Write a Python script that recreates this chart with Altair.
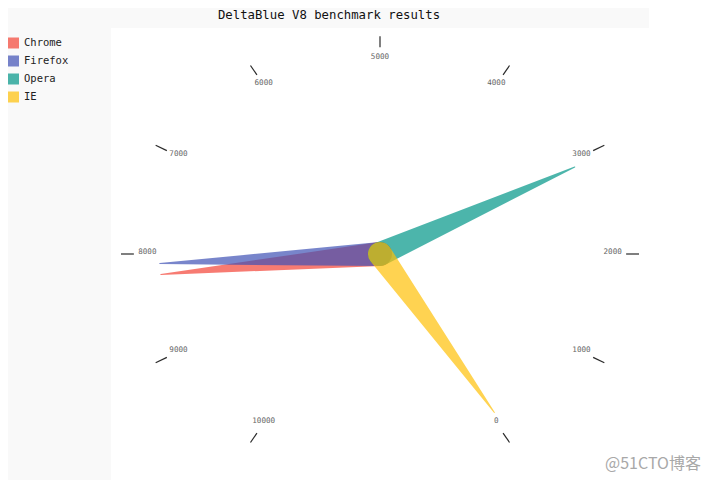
import altair as alt
import pandas as pd

# ---- data ----
title_text = "DeltaBlue V8 benchmark results"
series = ["Chrome", "Firefox", "Opera", "IE"]
values = [8212, 8099, 2933, 41]
colors = ["#F44336", "#3F51B5", "#009688", "#FFC107"]
gauge_min = 0
gauge_max = 10000
tick_values = [0, 1000, 2000, 3000, 4000, 5000, 6000, 7000, 8000, 9000, 10000]
tick_labels = ["0", "1000", "2000", "3000", "4000", "5000",
               "6000", "7000", "8000", "9000", "10000"]
watermark = "@51CTO博客"

needles = pd.DataFrame(
    [{"series": s, "value": v, "end": e} for s, v in zip(series, values) for e in (0, 1)]
)
ticks = pd.DataFrame({"value": tick_values, "label": tick_labels})

MONO = "DejaVu Sans Mono"
ANGLE = f"(150 - 300 * (datum.value - {gauge_min}) / {gauge_max - gauge_min}) * PI / 180"

xs = alt.Scale(domain=[-1, 1], nice=False, zero=False)
ys = alt.Scale(domain=[-1, 1], nice=False, zero=False)

# white strip right of the chart (page area outside the chart frame)
strip = alt.Chart(alt.Data(values=[{}])).mark_rect(color="white").encode(
    x=alt.value(538), x2=alt.value(620), y=alt.value(-20), y2=alt.value(470)
)

tick_rules = alt.Chart(ticks).transform_calculate(
    theta=ANGLE
).transform_calculate(
    x1="0.915 * sin(datum.theta)",
    y1="0.915 * cos(datum.theta)",
    x2="0.963 * sin(datum.theta)",
    y2="0.963 * cos(datum.theta)",
).mark_rule(color="#2a2a2a", strokeWidth=1.2).encode(
    x=alt.X("x1:Q", scale=xs, axis=None),
    y=alt.Y("y1:Q", scale=ys, axis=None),
    x2="x2:Q",
    y2="y2:Q",
)

tick_text = alt.Chart(ticks).transform_calculate(
    theta=ANGLE
).transform_calculate(
    lx="0.865 * sin(datum.theta)",
    ly="0.865 * cos(datum.theta)",
).mark_text(font=MONO, fontSize=7.6, color="#666666", align="center",
            baseline="alphabetic").encode(
    x=alt.X("lx:Q", scale=xs, axis=None),
    y=alt.Y("ly:Q", scale=ys, axis=None),
    text="label:N",
)

needle = alt.Chart(needles).transform_calculate(
    theta=ANGLE
).transform_calculate(
    nx="0.82 * datum.end * sin(datum.theta)",
    ny="0.82 * datum.end * cos(datum.theta)",
).mark_trail(opacity=0.7).encode(
    x=alt.X("nx:Q", scale=xs, axis=None),
    y=alt.Y("ny:Q", scale=ys, axis=None),
    size=alt.Size("end:Q", scale=alt.Scale(domain=[0, 1], range=[24, 0]), legend=None),
    color=alt.Color(
        "series:N",
        scale=alt.Scale(domain=series, range=colors),
        legend=alt.Legend(
            title=None, orient="none", legendX=-103, legendY=9,
            symbolType="square", symbolSize=4, symbolStrokeWidth=9,
            symbolOpacity=0.7, clipHeight=12,
            labelFont=MONO, labelFontSize=10.5, labelColor="#222222",
            rowPadding=6, labelOffset=5,
        ),
    ),
    order=alt.Order("end:Q"),
    detail="series:N",
)

mark_wm = alt.Chart(alt.Data(values=[{}])).mark_text(
    text=watermark, font="Noto Sans CJK SC", fontSize=16, color="#a8a8a8",
    align="center", baseline="middle",
).encode(x=alt.value(542), y=alt.value(436))

chart = alt.layer(strip, tick_rules, tick_text, needle, mark_wm).properties(
    width=538,
    height=452,
    autosize="none",
    padding={"left": 103, "top": 20, "right": 55, "bottom": 0},
    title=alt.Title(title_text, font=MONO, fontSize=12.3, fontWeight="normal",
                    color="#111111", anchor="middle", dx=-51, dy=13, offset=0,
                    frame="group"),
).configure(background="#f9f9f9").configure_view(fill="white", stroke=None)

chart.save("out.html", embed_options={"renderer": "svg", "actions": False})
